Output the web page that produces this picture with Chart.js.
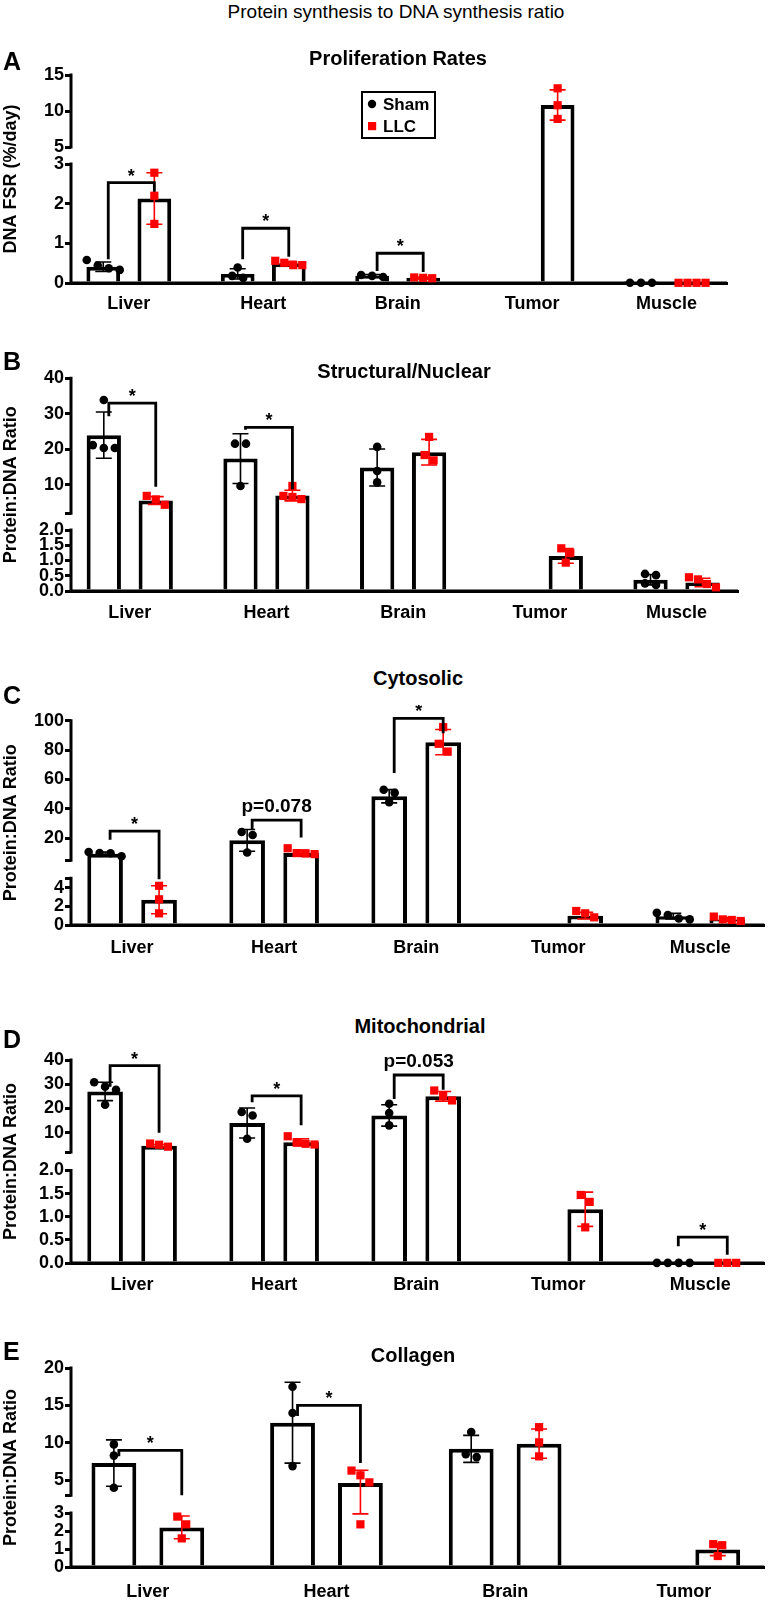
<!DOCTYPE html>
<html>
<head>
<meta charset="utf-8">
<script src="https://cdn.jsdelivr.net/npm/chart.js@4.4.1/dist/chart.umd.min.js"></script>
<style>
  html, body { margin: 0; padding: 0; background: #fff; }
  body { width: 770px; height: 1605px; position: relative; overflow: hidden; font-family: "Liberation Sans", Arial, sans-serif; color: #000; }
  canvas { position: absolute; left: 0; }
  .txt { position: absolute; white-space: nowrap; line-height: 1; z-index: 2; }
  .letter { left: 3px; font-size: 25px; font-weight: bold; }
  .ptitle { width: 400px; text-align: center; font-size: 20px; font-weight: bold; }
</style>
</head>
<body>
<canvas id="chartA" width="770" height="263" style="top:60px"></canvas>
<canvas id="chartB" width="770" height="268" style="top:363px"></canvas>
<canvas id="chartC" width="770" height="260" style="top:705px"></canvas>
<canvas id="chartD" width="770" height="258" style="top:1045px"></canvas>
<canvas id="chartE" width="770" height="254" style="top:1353px"></canvas>

<div class="txt" style="top:2px; left:196px; width:400px; text-align:center; font-size:19px;">Protein synthesis to DNA synthesis ratio</div>
<div class="txt letter" style="top:49px">A</div>
<div class="txt ptitle" style="top:48px; left:198px">Proliferation Rates</div>
<div class="txt letter" style="top:349px">B</div>
<div class="txt ptitle" style="top:361px; left:204px">Structural/Nuclear</div>
<div class="txt letter" style="top:683px">C</div>
<div class="txt ptitle" style="top:668px; left:218px">Cytosolic</div>
<div class="txt letter" style="top:1027px">D</div>
<div class="txt ptitle" style="top:1016px; left:220px">Mitochondrial</div>
<div class="txt letter" style="top:1339px">E</div>
<div class="txt ptitle" style="top:1345px; left:213px">Collagen</div>

<script>
const organs = ["Liver", "Heart", "Brain", "Tumor", "Muscle"];
const organsE = ["Liver", "Heart", "Brain", "Tumor"];

// A - proliferation rates (DNA FSR, %/day)
const aShamMean = [0.41, 0.23, 0.18, null, 0.01];
const aShamSD = [0.12, 0.13, 0.03, null, null];
const aShamPts = [[0.37, 0.44, 0.58, 0.33], [0.39, 0.13, 0.18], [0.15, 0.2, 0.18], [], [0.005, 0.005, 0.005]];
const aLlcMean = [2.13, 0.5, 0.13, 10.83, 0.01];
const aLlcSD = [0.65, 0.05, 0.02, 2.1, null];
const aLlcPts = [[2.78, 2.2, 1.49], [0.45, 0.56, 0.45, 0.51], [0.13, 0.14, 0.12], [13.15, 10.8, 8.9], [0.005, 0.005, 0.005, 0.005]];
const aBrackets = [[0, 2.53, 0.6, 2.3, "*"], [1, 1.38, 0.6, 0.66, "*"], [2, 0.75, 0.3, 0.28, "*"]];
const aLowTicks = [0, 1, 2, 3], aLowLabels = ["0", "1", "2", "3"];
const aHighTicks = [5, 10, 15], aHighLabels = ["5", "10", "15"];

// B - structural/nuclear
const bShamMean = [24.0, 17.4, 14.9, null, 0.37];
const bShamSD = [6.5, 7.0, 5.2, null, 0.17];
const bShamPts = [[33.9, 20.4, 21.2, 20.4], [21.6, 21.6, 9.7], [20.7, 13.9, 10.7], [], [0.52, 0.56, 0.2, 0.25]];
const bLlcMean = [5.6, 7.0, 19.2, 1.15, 0.28];
const bLlcSD = [1.1, 1.5, 3.6, 0.24, 0.14];
const bLlcPts = [[6.9, 4.4, 5.9], [6.0, 9.7, 6.9, 6.6], [23.5, 16.9, 18.4], [1.4, 1.24, 0.93], [0.45, 0.38, 0.12, 0.23]];
const bBrackets = [[0, 33.0, 29.3, 9.5, "*"], [1, 26.2, 25.5, 8.8, "*"]];
const bLowTicks = [0, 0.5, 1, 1.5, 2], bLowLabels = ["0.0", "0.5", "1.0", "1.5", "2.0"];
const bHighTicks = [2, 10, 20, 30, 40], bHighLabels = ["", "10", "20", "30", "40"];

// C - cytosolic
const cShamMean = [9.4, 18.6, 48.6, null, 0.95];
const cShamSD = [1.2, 7.4, 4.5, null, 0.3];
const cShamPts = [[7.8, 10.6, 10.0, 9.8], [24.3, 22.2, 10.3], [53.0, 50.9, 44.5], [], [0.6, 1.3, 0.7, 1.07]];
const cLlcMean = [2.7, 10.0, 85.4, 1.0, 0.6];
const cLlcSD = [1.5, 1.9, 8.6, 0.35, 0.2];
const cLlcPts = [[4.2, 2.75, 1.25], [9.2, 13.2, 9.6, 9.9], [95.6, 84.3, 79.0], [0.82, 1.5, 1.25], [0.43, 0.9, 0.54, 0.6]];
const cBrackets = [[0, 24.9, 18.9, 4.9, "*"], [1, 32.4, 26.1, 20.5, "p=0.078"], [2, 101.6, 64.4, 91.5, "*"]];
const cLowTicks = [0, 2, 4, 5], cLowLabels = ["0", "2", "4", ""];
const cHighTicks = [5, 20, 40, 60, 80, 100], cHighLabels = ["", "20", "40", "60", "80", "100"];

// D - mitochondrial
const dShamMean = [27.0, 14.0, 17.1, null, 0];
const dShamSD = [3.8, 6.2, 4.4, null, null];
const dShamPts = [[30.8, 27.7, 29.0, 21.5], [18.5, 17.1, 7.5], [21.9, 18.1, 13.0], [], [0.003, 0.003, 0.003, 0.003]];
const dLlcMean = [4.6, 6.0, 25.0, 1.16, 0];
const dLlcSD = [0.5, 1.5, 2.0, 0.37, null];
const dLlcPts = [[4.2, 5.5, 5.0], [5.1, 8.5, 5.4, 6.0], [27.4, 23.3, 25.2], [1.47, 1.32, 0.77], [0.003, 0.003, 0.003]];
const dBrackets = [[0, 37.7, 29.0, 9.9, "*"], [1, 25.2, 22.5, 13.0, "*"], [2, 33.8, 23.9, 27.7, "p=0.053"], [4, 0.56, 0.36, 0.18, "*"]];
const dLowTicks = [0, 0.5, 1, 1.5, 2], dLowLabels = ["0.0", "0.5", "1.0", "1.5", "2.0"];
const dHighTicks = [2, 10, 20, 30, 40], dHighLabels = ["", "10", "20", "30", "40"];

// E - collagen
const eShamMean = [7.3, 12.7, 9.2, null];
const eShamSD = [3.1, 5.4, 1.8, null];
const eShamPts = [[9.8, 8.3, 4.0], [17.5, 14.0, 6.9], [11.46, 8.1, 8.5], []];
const eLlcMean = [2.2, 4.65, 9.9, 0.97];
const eLlcSD = [0.63, 1.7, 1.95, 0.34];
const eLlcPts = [[2.8, 2.37, 1.59], [5.67, 6.3, 4.73, 2.37], [12.1, 10.07, 8.2], [1.27, 1.21, 0.61]];
const eBrackets = [[0, 9.0, 8.2, 3.01, "*"], [1, 15.0, 13.6, 7.3, "*"]];
const eLowTicks = [0, 1, 2, 3], eLowLabels = ["0", "1", "2", "3"];
const eHighTicks = [3, 5, 10, 15, 20], eHighLabels = ["", "5", "10", "15", "20"];

const RED = "rgb(255,0,0)";
const FONT = '"Liberation Sans", Arial, sans-serif';
Chart.defaults.font.family = FONT;
Chart.defaults.color = "#000";

// per-canvas axis break settings and annotations
const breaks = {};
const extras = {};

// linear scale split in two pieces (lower / upper) with a gap between
class BrokenScale extends Chart.LinearScale {
  segPixel(v, seg) {
    const b = breaks[this.chart.canvas.id];
    if (seg === 0) return this.bottom - (v - b.low[0]) / (b.low[1] - b.low[0]) * b.lowPx;
    const upPx = this.bottom - this.top - b.lowPx - b.gap;
    return this.top + (b.high[1] - v) / (b.high[1] - b.high[0]) * upPx;
  }
  buildTicks() {
    const b = breaks[this.chart.canvas.id];
    const lo = b.lowTicks.map((v, i) => ({ value: v, seg: 0, text: b.lowLabels[i] }));
    const hi = b.highTicks.map((v, i) => ({ value: v, seg: 1, text: b.highLabels[i] }));
    return lo.concat(hi);
  }
  getPixelForValue(v) {
    const b = breaks[this.chart.canvas.id];
    return this.segPixel(v, v <= b.low[1] ? 0 : 1);
  }
  getPixelForTick(i) {
    const t = this.ticks[i];
    return t ? this.segPixel(t.value, t.seg) : null;
  }
  getValueForPixel(p) {
    const b = breaks[this.chart.canvas.id];
    if (p >= this.bottom - b.lowPx) return b.low[0] + (this.bottom - p) / b.lowPx * (b.low[1] - b.low[0]);
    const upPx = this.bottom - this.top - b.lowPx - b.gap;
    return b.high[1] - (p - this.top) / upPx * (b.high[1] - b.high[0]);
  }
}
BrokenScale.id = "broken";
BrokenScale.defaults = Chart.LinearScale.defaults;
Chart.register(BrokenScale);

function drawAxes(chart) {
  const ctx = chart.ctx, ys = chart.scales.y, a = chart.chartArea;
  const b = breaks[chart.canvas.id];
  ctx.save();
  ctx.strokeStyle = "#000";
  ctx.lineWidth = 3;
  ctx.beginPath();
  ctx.moveTo(a.left, ys.segPixel(b.low[0], 0) + 1.5);
  ctx.lineTo(a.left, ys.segPixel(b.low[1], 0) - 1.5);
  ctx.moveTo(a.left, ys.segPixel(b.high[0], 1) + 1.5);
  ctx.lineTo(a.left, ys.segPixel(b.high[1], 1) - 1.5);
  ctx.moveTo(a.left, a.bottom);
  ctx.lineTo(a.right, a.bottom);
  ctx.stroke();
  ctx.restore();
}

const decor = {
  id: "decor",
  afterDatasetDraw(chart, args) {
    const ds = chart.data.datasets[args.index];
    if (!ds.sd) return;
    const ctx = chart.ctx, ys = chart.scales.y;
    ctx.save();
    ctx.strokeStyle = ds.errColor;
    ctx.lineWidth = 1.6;
    args.meta.data.forEach((bar, i) => {
      const m = ds.data[i].y, s = ds.sd[i];
      if (m == null || s == null) return;
      const t = ys.getPixelForValue(m + s), bt = ys.getPixelForValue(Math.max(0, m - s));
      ctx.beginPath();
      ctx.moveTo(bar.x, t); ctx.lineTo(bar.x, bt);
      ctx.moveTo(bar.x - 8, t); ctx.lineTo(bar.x + 8, t);
      ctx.moveTo(bar.x - 8, bt); ctx.lineTo(bar.x + 8, bt);
      ctx.stroke();
    });
    ctx.restore();
    // sham bars are drawn last of the bars: put axis lines back on top of them
    if (args.index === 0) drawAxes(chart);
  },
  afterDraw(chart) {
    const ctx = chart.ctx, ys = chart.scales.y;
    const ex = extras[chart.canvas.id];
    const m0 = chart.getDatasetMeta(0).data, m1 = chart.getDatasetMeta(1).data;
    ctx.save();
    ctx.strokeStyle = "#000";
    ctx.fillStyle = "#000";
    ctx.lineWidth = 2.8;
    ex.brackets.forEach(([cat, top, lb, rb, label]) => {
      const x1 = m0[cat].x + 5, x2 = m1[cat].x;
      const yt = ys.getPixelForValue(top);
      ctx.beginPath();
      ctx.moveTo(x1, ys.getPixelForValue(lb));
      ctx.lineTo(x1, yt);
      ctx.lineTo(x2, yt);
      ctx.lineTo(x2, ys.getPixelForValue(rb));
      ctx.stroke();
      const star = label === "*";
      ctx.font = "bold " + (star ? 18 : 19) + "px " + FONT;
      ctx.textAlign = "center";
      ctx.textBaseline = "alphabetic";
      ctx.fillText(label, (x1 + x2) / 2, yt - (star ? 1 : 8));
    });
    if (ex.legend) {
      const L = chart.chartArea.left + 291, T = chart.chartArea.top + 17;
      ctx.lineWidth = 2;
      ctx.strokeRect(L, T, 73, 46);
      ctx.beginPath();
      ctx.arc(L + 10, T + 12, 4.2, 0, Math.PI * 2);
      ctx.fill();
      ctx.fillStyle = RED;
      ctx.fillRect(L + 6, T + 30, 8.2, 8.2);
      ctx.fillStyle = "#000";
      ctx.font = "bold 17px " + FONT;
      ctx.textAlign = "left";
      ctx.textBaseline = "middle";
      chart.data.datasets.slice(0, 2).forEach((ds, i) => ctx.fillText(ds.label, L + 21, T + 13 + i * 22));
    }
    ctx.restore();
  }
};
Chart.register(decor);

// place the dots of each group: near-equal values sit side by side
function spreadPoints(chart) {
  const ys = chart.scales.y, xs = chart.scales.x;
  chart.data.datasets.forEach(ds => {
    if (!ds.groups) return;
    const bars = chart.getDatasetMeta(ds.barIndex).data;
    const pts = [];
    ds.groups.forEach((vals, cat) => {
      const sorted = vals.map(v => ({ v, py: ys.getPixelForValue(v) })).sort((p, q) => p.py - q.py);
      let run = [];
      const place = () => {
        run.forEach((p, j) => pts.push({
          x: xs.getValueForPixel(bars[cat].x + (j - (run.length - 1) / 2) * ds.step),
          y: p.v
        }));
        run = [];
      };
      sorted.forEach(p => {
        if (run.length && p.py - run[run.length - 1].py > 8) place();
        run.push(p);
      });
      place();
    });
    ds.data = pts;
  });
  chart.update("none");
}

function makePanel(p) {
  breaks[p.id] = p.brk;
  extras[p.id] = { brackets: p.brackets, legend: !!p.legend };
  const n = p.labels.length;
  const barData = arr => arr.map((v, i) => ({ x: i, y: v }));
  const barStyle = { backgroundColor: "#fff", borderColor: "#000", borderWidth: 4, categoryPercentage: 0.76, barPercentage: 0.66, order: 3 };
  const chart = new Chart(document.getElementById(p.id), {
    type: "bar",
    data: {
      datasets: [
        Object.assign({ label: "Sham", data: barData(p.shamMean), sd: p.shamSD, errColor: "#000" }, barStyle),
        Object.assign({ label: "LLC", data: barData(p.llcMean), sd: p.llcSD, errColor: RED }, barStyle),
        { type: "scatter", label: "Sham", groups: p.shamPts, barIndex: 0, step: 11, data: [],
          pointStyle: "circle", pointRadius: 4.3, backgroundColor: "#000", borderWidth: 0, order: 2, clip: false },
        { type: "scatter", label: "LLC", groups: p.llcPts, barIndex: 1, step: 9, data: [],
          pointStyle: "rect", pointRadius: 5.8, backgroundColor: RED, borderWidth: 0, order: 1, clip: false }
      ]
    },
    options: {
      responsive: false,
      animation: false,
      events: [],
      layout: { padding: { left: 0, right: p.padRight, top: p.padTop, bottom: 0 } },
      plugins: { legend: { display: false }, tooltip: { enabled: false } },
      scales: {
        x: {
          type: "linear",
          min: -0.43,
          max: n - 0.55,
          offset: false,
          afterBuildTicks: s => { s.ticks = p.labels.map((_, i) => ({ value: i })); },
          afterFit: s => { s.height = 40; },
          grid: { display: false, drawTicks: false },
          border: { display: true, color: "#000", width: 3 },
          ticks: {
            autoSkip: false, maxRotation: 0, padding: p.labelPad, color: "#000",
            font: { size: 18, weight: "bold" },
            callback: v => p.labels[v]
          }
        },
        y: {
          type: "broken",
          min: 0,
          max: p.brk.high[1],
          afterFit: s => { s.width = 71; },
          grid: { drawOnChartArea: false, color: "#000", lineWidth: 3, tickLength: 6 },
          border: { display: false },
          ticks: {
            autoSkip: false, padding: 1, color: "#000",
            font: { size: 18, weight: "bold" },
            callback: (v, i, t) => t[i].text
          },
          title: { display: true, text: p.yTitle, color: "#000", font: { size: 18, weight: "bold" }, padding: 0 }
        }
      }
    }
  });
  spreadPoints(chart);
  return chart;
}

makePanel({
  id: "chartA", labels: organs, yTitle: "DNA FSR (%/day)", legend: true,
  shamMean: aShamMean, shamSD: aShamSD, shamPts: aShamPts,
  llcMean: aLlcMean, llcSD: aLlcSD, llcPts: aLlcPts, brackets: aBrackets,
  brk: { low: [0, 3], high: [5, 15], lowPx: 119, gap: 17,
         lowTicks: aLowTicks, lowLabels: aLowLabels, highTicks: aHighTicks, highLabels: aHighLabels },
  padTop: 15, padRight: 43, labelPad: 10
});
makePanel({
  id: "chartB", labels: organs, yTitle: "Protein:DNA Ratio",
  shamMean: bShamMean, shamSD: bShamSD, shamPts: bShamPts,
  llcMean: bLlcMean, llcSD: bLlcSD, llcPts: bLlcPts, brackets: bBrackets,
  brk: { low: [0, 2], high: [2, 40], lowPx: 61, gap: 16.7,
         lowTicks: bLowTicks, lowLabels: bLowLabels, highTicks: bHighTicks, highLabels: bHighLabels },
  padTop: 15.3, padRight: 32, labelPad: 11
});
makePanel({
  id: "chartC", labels: organs, yTitle: "Protein:DNA Ratio",
  shamMean: cShamMean, shamSD: cShamSD, shamPts: cShamPts,
  llcMean: cLlcMean, llcSD: cLlcSD, llcPts: cLlcPts, brackets: cBrackets,
  brk: { low: [0, 5], high: [5, 100], lowPx: 46.7, gap: 18,
         lowTicks: cLowTicks, lowLabels: cLowLabels, highTicks: cHighTicks, highLabels: cHighLabels },
  padTop: 15.7, padRight: 3.4, labelPad: 12
});
makePanel({
  id: "chartD", labels: organs, yTitle: "Protein:DNA Ratio",
  shamMean: dShamMean, shamSD: dShamSD, shamPts: dShamPts,
  llcMean: dLlcMean, llcSD: dLlcSD, llcPts: dLlcPts, brackets: dBrackets,
  brk: { low: [0, 2], high: [2, 40], lowPx: 92.6, gap: 18.4,
         lowTicks: dLowTicks, lowLabels: dLowLabels, highTicks: dHighTicks, highLabels: dHighLabels },
  padTop: 15, padRight: 0, labelPad: 11
});
makePanel({
  id: "chartE", labels: organsE, yTitle: "Protein:DNA Ratio",
  shamMean: eShamMean, shamSD: eShamSD, shamPts: eShamPts,
  llcMean: eLlcMean, llcSD: eLlcSD, llcPts: eLlcPts, brackets: eBrackets,
  brk: { low: [0, 3], high: [3, 20], lowPx: 54, gap: 17.7,
         lowTicks: eLowTicks, lowLabels: eLowLabels, highTicks: eHighTicks, highLabels: eHighLabels },
  padTop: 15, padRight: 0.5, labelPad: 14
});
</script>
</body>
</html>
